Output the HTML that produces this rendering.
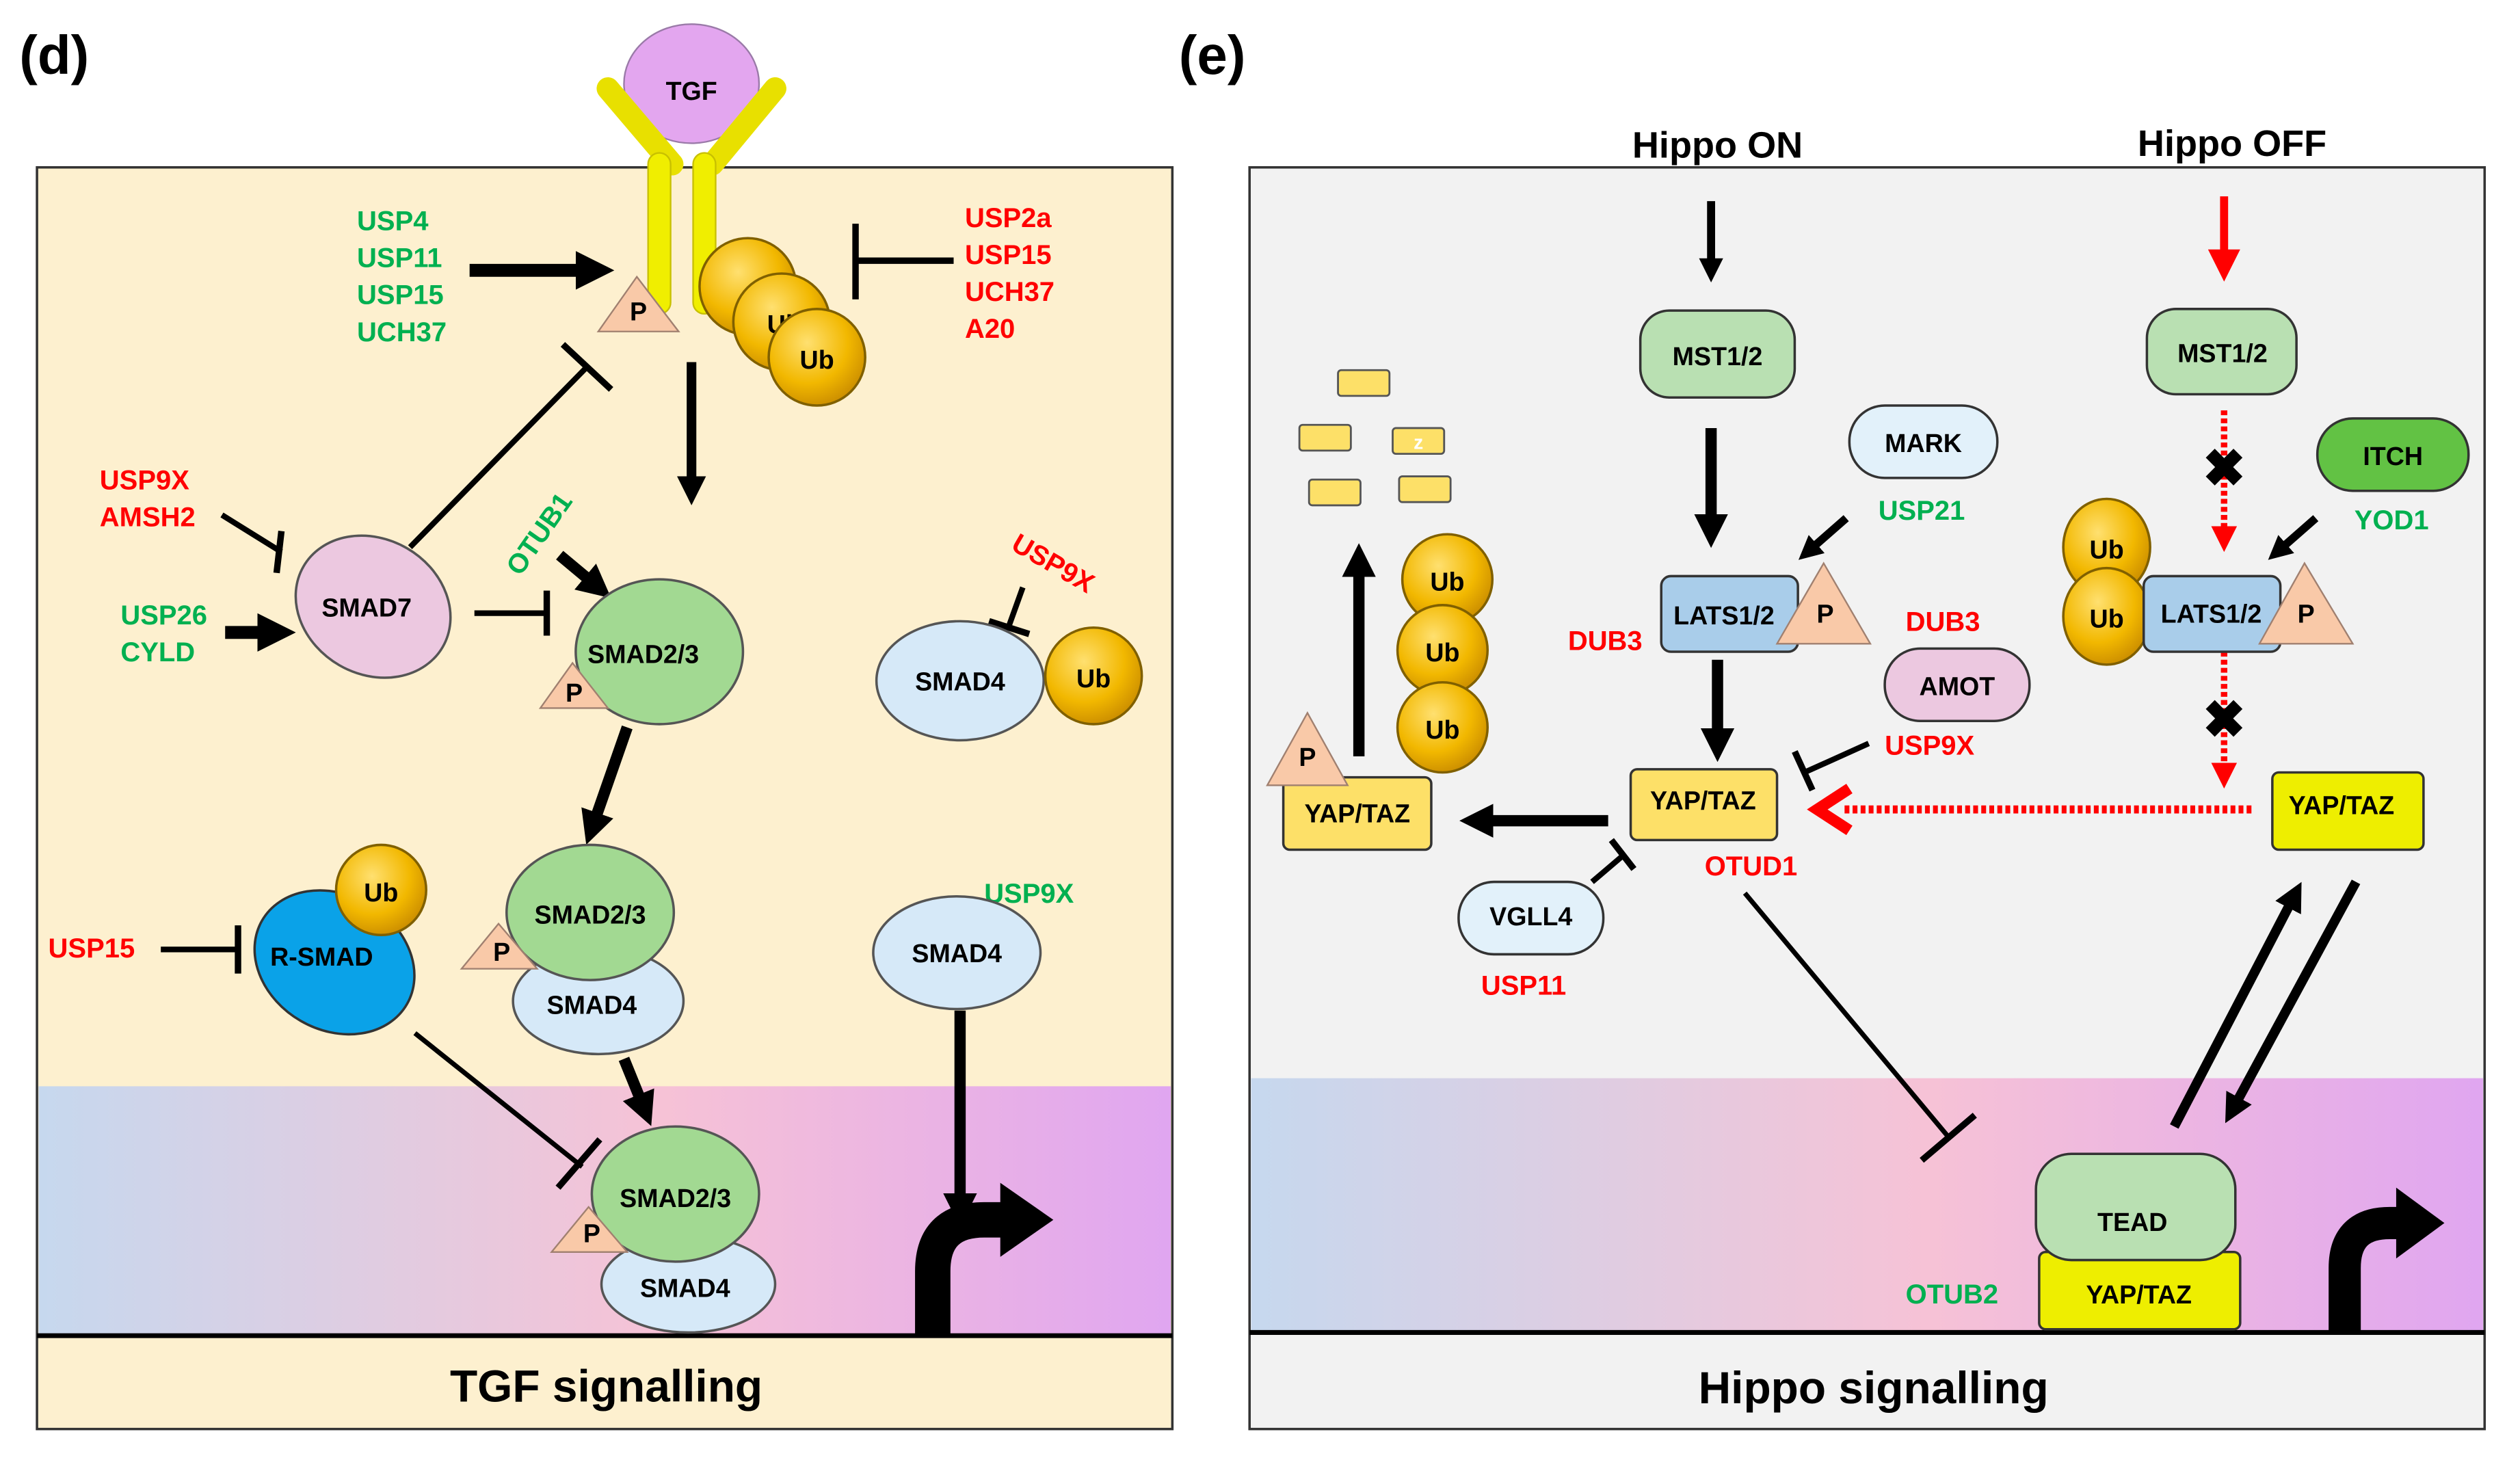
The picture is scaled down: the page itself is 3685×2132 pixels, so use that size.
<!DOCTYPE html>
<html><head><meta charset="utf-8"><style>
html,body{margin:0;padding:0;background:#fff;}
svg{display:block;}
text{font-family:"Liberation Sans",Arial,sans-serif;font-weight:bold;}
</style></head><body>
<svg width="3685" height="2132" viewBox="0 0 1567 906" preserveAspectRatio="none" xmlns="http://www.w3.org/2000/svg">
<defs>
<linearGradient id="nuc" x1="0" x2="1" y1="0" y2="0">
<stop offset="0" stop-color="#c6d8ee"/><stop offset="0.55" stop-color="#f6c2d6"/><stop offset="1" stop-color="#e0a6f0"/></linearGradient>
<radialGradient id="ub" cx="0.4" cy="0.35" r="0.7"><stop offset="0" stop-color="#ffe070"/><stop offset="0.6" stop-color="#f2b800"/><stop offset="1" stop-color="#c88a00"/></radialGradient>
<marker id="ah" viewBox="0 0 10 10" refX="5" refY="5" markerWidth="3" markerHeight="3" orient="auto"><path d="M0,0 L10,5 L0,10 z" fill="#000"/></marker>
<marker id="ahr" viewBox="0 0 10 10" refX="5" refY="5" markerWidth="4" markerHeight="4" orient="auto"><path d="M0,0 L10,5 L0,10 z" fill="#f00"/></marker>
</defs>
<style>
.g{fill:#00b050;font-size:17px}.r{fill:#ff0000;font-size:17px}.k{fill:#000;font-size:16px}
.ln{stroke:#000;fill:none}
</style>
<text x="12" y="46" font-size="34" fill="#000">(d)</text>
<text x="733" y="46" font-size="34" fill="#000">(e)</text>

<!-- LEFT PANEL -->
<rect x="23" y="104" width="706" height="784" fill="#fdf0cf" stroke="#333" stroke-width="1.5"/>
<rect x="24" y="675" width="704" height="155" fill="url(#nuc)"/>
<line x1="23" y1="830" x2="729" y2="830" stroke="#000" stroke-width="3"/>
<text x="377" y="871" font-size="28" text-anchor="middle">TGF signalling</text>

<ellipse cx="430" cy="52" rx="42" ry="37" fill="#e3a6ef" stroke="#9a7aa8"/>
<text x="430" y="62" class="k" text-anchor="middle">TGF</text>
<line x1="378" y1="55" x2="418" y2="102" stroke="#e8e000" stroke-width="14" stroke-linecap="round"/>
<line x1="482" y1="55" x2="443" y2="102" stroke="#e8e000" stroke-width="14" stroke-linecap="round"/>
<rect x="403" y="95" width="14" height="100" rx="7" fill="#f0ee00" stroke="#c8c000"/>
<rect x="431" y="95" width="14" height="100" rx="7" fill="#f0ee00" stroke="#c8c000"/>
<polygon points="372,206 396,172 422,206" fill="#f9c9a8" stroke="#a08070"/>
<text x="397" y="199" class="k" text-anchor="middle">P</text>
<circle cx="465" cy="178" r="30" fill="url(#ub)" stroke="#806000" stroke-width="1.5"/>
<text x="477" y="185" class="k">Ub</text>
<circle cx="486" cy="200" r="30" fill="url(#ub)" stroke="#806000" stroke-width="1.5"/>
<text x="477" y="207" class="k">Ub</text>
<circle cx="508" cy="222" r="30" fill="url(#ub)" stroke="#806000" stroke-width="1.5"/>
<text x="508" y="229" class="k" text-anchor="middle">Ub</text>

<text x="222" y="143" class="g">USP4</text><text x="222" y="166" class="g">USP11</text>
<text x="222" y="189" class="g">USP15</text><text x="222" y="212" class="g">UCH37</text>
<line x1="292" y1="168" x2="370" y2="168" class="ln" stroke-width="8" marker-end="url(#ah)"/>
<text x="600" y="141" class="r">USP2a</text><text x="600" y="164" class="r">USP15</text>
<text x="600" y="187" class="r">UCH37</text><text x="600" y="210" class="r">A20</text>
<line x1="593" y1="162" x2="532" y2="162" class="ln" stroke-width="4"/>
<line x1="532" y1="139" x2="532" y2="186" class="ln" stroke-width="4"/>
<line x1="430" y1="225" x2="430" y2="305" class="ln" stroke-width="6" marker-end="url(#ah)"/>

<line x1="255" y1="340" x2="365" y2="228" class="ln" stroke-width="3.5"/>
<line x1="350" y1="214" x2="380" y2="242" class="ln" stroke-width="4"/>
<text x="62" y="304" class="r">USP9X</text><text x="62" y="327" class="r">AMSH2</text>
<line x1="138" y1="320" x2="175" y2="343" class="ln" stroke-width="3.5"/>
<line x1="175" y1="330" x2="172" y2="356" class="ln" stroke-width="4"/>
<text x="75" y="388" class="g">USP26</text><text x="75" y="411" class="g">CYLD</text>
<line x1="140" y1="393" x2="172" y2="393" class="ln" stroke-width="8" marker-end="url(#ah)"/>
<ellipse cx="232" cy="377" rx="50" ry="42" transform="rotate(30 232 377)" fill="#ecc8e0" stroke="#555" stroke-width="1.5"/>
<text x="228" y="383" class="k" text-anchor="middle">SMAD7</text>
<line x1="295" y1="381" x2="340" y2="381" class="ln" stroke-width="3.5"/>
<line x1="340" y1="367" x2="340" y2="395" class="ln" stroke-width="4"/>
<text x="340" y="335" class="g" transform="rotate(-55 340 335)" text-anchor="middle">OTUB1</text>
<line x1="348" y1="345" x2="372" y2="365" class="ln" stroke-width="7" marker-end="url(#ah)"/>
<ellipse cx="410" cy="405" rx="52" ry="45" fill="#a2d992" stroke="#555" stroke-width="1.5"/>
<text x="400" y="412" class="k" text-anchor="middle">SMAD2/3</text>
<polygon points="336,440 356,412 378,440" fill="#f9c9a8" stroke="#a08070"/>
<text x="357" y="436" class="k" text-anchor="middle">P</text>

<text x="652" y="355" class="r" transform="rotate(30 652 355)" text-anchor="middle">USP9X</text>
<line x1="636" y1="365" x2="627" y2="390" class="ln" stroke-width="3.5"/>
<line x1="615" y1="386" x2="640" y2="394" class="ln" stroke-width="4"/>
<ellipse cx="597" cy="423" rx="52" ry="37" fill="#d6e9f8" stroke="#555" stroke-width="1.5"/>
<text x="597" y="429" class="k" text-anchor="middle">SMAD4</text>
<circle cx="680" cy="420" r="30" fill="url(#ub)" stroke="#806000" stroke-width="1.5"/>
<text x="680" y="427" class="k" text-anchor="middle">Ub</text>

<line x1="390" y1="452" x2="368" y2="515" class="ln" stroke-width="7" marker-end="url(#ah)"/>
<ellipse cx="372" cy="622" rx="53" ry="33" fill="#d6e9f8" stroke="#555" stroke-width="1.5"/>
<text x="368" y="630" class="k" text-anchor="middle">SMAD4</text>
<ellipse cx="367" cy="567" rx="52" ry="42" fill="#a2d992" stroke="#555" stroke-width="1.5"/>
<text x="367" y="574" class="k" text-anchor="middle">SMAD2/3</text>
<polygon points="287,602 310,574 334,602" fill="#f9c9a8" stroke="#a08070"/>
<text x="312" y="597" class="k" text-anchor="middle">P</text>

<ellipse cx="208" cy="598" rx="52" ry="42" transform="rotate(30 208 598)" fill="#0aa2e8" stroke="#333" stroke-width="1.5"/>
<text x="200" y="600" class="k" text-anchor="middle">R-SMAD</text>
<circle cx="237" cy="553" r="28" fill="url(#ub)" stroke="#806000" stroke-width="1.5"/>
<text x="237" y="560" class="k" text-anchor="middle">Ub</text>
<text x="30" y="595" class="r">USP15</text>
<line x1="100" y1="590" x2="148" y2="590" class="ln" stroke-width="3.5"/>
<line x1="148" y1="575" x2="148" y2="605" class="ln" stroke-width="4"/>
<line x1="258" y1="642" x2="362" y2="725" class="ln" stroke-width="3"/>
<line x1="347" y1="738" x2="373" y2="708" class="ln" stroke-width="4"/>
<line x1="388" y1="658" x2="401" y2="690" class="ln" stroke-width="7" marker-end="url(#ah)"/>

<ellipse cx="428" cy="798" rx="54" ry="30" fill="#d6e9f8" stroke="#555" stroke-width="1.5"/>
<text x="426" y="806" class="k" text-anchor="middle">SMAD4</text>
<ellipse cx="420" cy="742" rx="52" ry="42" fill="#a2d992" stroke="#555" stroke-width="1.5"/>
<text x="420" y="750" class="k" text-anchor="middle">SMAD2/3</text>
<polygon points="343,778 366,750 390,778" fill="#f9c9a8" stroke="#a08070"/>
<text x="368" y="772" class="k" text-anchor="middle">P</text>

<text x="612" y="561" class="g">USP9X</text>
<ellipse cx="595" cy="592" rx="52" ry="35" fill="#d6e9f8" stroke="#555" stroke-width="1.5"/>
<text x="595" y="598" class="k" text-anchor="middle">SMAD4</text>
<line x1="597" y1="628" x2="597" y2="752" class="ln" stroke-width="7" marker-end="url(#ah)"/>
<path d="M580,830 L580,790 Q580,758 612,758 L628,758" stroke="#000" stroke-width="22" fill="none"/>
<polygon points="622,735 655,758 622,781" fill="#000"/>

<!-- RIGHT PANEL -->
<rect x="777" y="104" width="768" height="784" fill="#f2f2f2" stroke="#333" stroke-width="1.5"/>
<rect x="778" y="670" width="766" height="158" fill="url(#nuc)"/>
<line x1="777" y1="828" x2="1545" y2="828" stroke="#000" stroke-width="3"/>
<text x="1165" y="872" font-size="28" text-anchor="middle">Hippo signalling</text>
<text x="1068" y="98" font-size="23" text-anchor="middle">Hippo ON</text>
<text x="1388" y="97" font-size="23" text-anchor="middle">Hippo OFF</text>

<line x1="1064" y1="125" x2="1064" y2="168" class="ln" stroke-width="5" marker-end="url(#ah)"/>
<line x1="1383" y1="122" x2="1383" y2="165" stroke="#f00" stroke-width="5" marker-end="url(#ahr)"/>
<rect x="1020" y="193" width="96" height="54" rx="18" fill="#b9e0b2" stroke="#333" stroke-width="1.5"/>
<text x="1068" y="227" class="k" text-anchor="middle">MST1/2</text>
<rect x="1335" y="192" width="93" height="53" rx="18" fill="#b9e0b2" stroke="#333" stroke-width="1.5"/>
<text x="1382" y="225" class="k" text-anchor="middle">MST1/2</text>
<line x1="1064" y1="266" x2="1064" y2="330" class="ln" stroke-width="7" marker-end="url(#ah)"/>
<rect x="1150" y="252" width="92" height="45" rx="22" fill="#e2f1fa" stroke="#333" stroke-width="1.5"/>
<text x="1196" y="281" class="k" font-size="15" text-anchor="middle">MARK</text>
<text x="1168" y="323" class="g">USP21</text>
<line x1="1148" y1="322" x2="1124" y2="343" class="ln" stroke-width="5" marker-end="url(#ah)"/>
<rect x="1033" y="358" width="85" height="47" rx="6" fill="#a9cdea" stroke="#333" stroke-width="1.5"/>
<text x="1072" y="388" class="k" font-size="15" text-anchor="middle">LATS1/2</text>
<polygon points="1105,400 1134,350 1163,400" fill="#f9c9a8" stroke="#a08070"/>
<text x="1135" y="387" class="k" text-anchor="middle">P</text>
<text x="975" y="404" class="r">DUB3</text>
<text x="1185" y="392" class="r">DUB3</text>
<rect x="1172" y="403" width="90" height="45" rx="22" fill="#ecc8e0" stroke="#333" stroke-width="1.5"/>
<text x="1217" y="432" class="k" font-size="15" text-anchor="middle">AMOT</text>
<line x1="1068" y1="410" x2="1068" y2="463" class="ln" stroke-width="7" marker-end="url(#ah)"/>
<rect x="1014" y="478" width="91" height="44" rx="4" fill="#fde068" stroke="#333" stroke-width="1.5"/>
<text x="1059" y="503" class="k" font-size="14" text-anchor="middle">YAP/TAZ</text>
<text x="1172" y="469" class="r">USP9X</text>
<line x1="1162" y1="462" x2="1122" y2="480" class="ln" stroke-width="3.5"/>
<line x1="1116" y1="467" x2="1127" y2="491" class="ln" stroke-width="4"/>
<text x="1060" y="544" class="r">OTUD1</text>
<rect x="907" y="548" width="90" height="45" rx="22" fill="#e2f1fa" stroke="#333" stroke-width="1.5"/>
<text x="952" y="575" class="k" font-size="15" text-anchor="middle">VGLL4</text>
<text x="921" y="618" class="r">USP11</text>
<line x1="990" y1="548" x2="1010" y2="531" class="ln" stroke-width="3.5"/>
<line x1="1002" y1="522" x2="1016" y2="540" class="ln" stroke-width="4"/>
<line x1="1000" y1="510" x2="918" y2="510" class="ln" stroke-width="7" marker-end="url(#ah)"/>
<rect x="798" y="483" width="92" height="45" rx="4" fill="#fde068" stroke="#333" stroke-width="1.5"/>
<text x="844" y="511" class="k" font-size="14" text-anchor="middle">YAP/TAZ</text>
<polygon points="788,488 813,443 838,488" fill="#f9c9a8" stroke="#a08070"/>
<text x="813" y="476" class="k" text-anchor="middle">P</text>
<line x1="845" y1="470" x2="845" y2="348" class="ln" stroke-width="7" marker-end="url(#ah)"/>
<ellipse cx="900" cy="360" rx="28" ry="28" fill="url(#ub)" stroke="#806000" stroke-width="1.5"/>
<ellipse cx="897" cy="404" rx="28" ry="28" fill="url(#ub)" stroke="#806000" stroke-width="1.5"/>
<ellipse cx="897" cy="452" rx="28" ry="28" fill="url(#ub)" stroke="#806000" stroke-width="1.5"/>
<text x="900" y="367" class="k" text-anchor="middle">Ub</text>
<text x="897" y="411" class="k" text-anchor="middle">Ub</text>
<text x="897" y="459" class="k" text-anchor="middle">Ub</text>
<g fill="#fde068" stroke="#555" stroke-width="1.2">
<rect x="832" y="230" width="32" height="16" rx="2"/><rect x="808" y="264" width="32" height="16" rx="2"/>
<rect x="866" y="266" width="32" height="16" rx="2"/><rect x="814" y="298" width="32" height="16" rx="2"/>
<rect x="870" y="296" width="32" height="16" rx="2"/></g>
<text x="882" y="279" fill="#fff" font-size="12" text-anchor="middle">z</text>
<line x1="1085" y1="555" x2="1212" y2="707" class="ln" stroke-width="3"/>
<line x1="1195" y1="721" x2="1228" y2="693" class="ln" stroke-width="4"/>

<line x1="1383" y1="255" x2="1383" y2="335" stroke="#f00" stroke-width="4" stroke-dasharray="3,2" marker-end="url(#ahr)"/>
<text x="1383" y="302" font-size="32" text-anchor="middle" fill="#000">✖</text>
<line x1="1383" y1="405" x2="1383" y2="482" stroke="#f00" stroke-width="4" stroke-dasharray="3,2" marker-end="url(#ahr)"/>
<text x="1383" y="458" font-size="32" text-anchor="middle" fill="#000">✖</text>
<rect x="1441" y="260" width="94" height="45" rx="22" fill="#62c244" stroke="#333" stroke-width="1.5"/>
<text x="1488" y="289" class="k" font-size="17" text-anchor="middle">ITCH</text>
<text x="1464" y="329" class="g">YOD1</text>
<line x1="1440" y1="322" x2="1416" y2="343" class="ln" stroke-width="5" marker-end="url(#ah)"/>
<ellipse cx="1310" cy="340" rx="27" ry="30" fill="url(#ub)" stroke="#806000" stroke-width="1.5"/>
<ellipse cx="1310" cy="383" rx="27" ry="30" fill="url(#ub)" stroke="#806000" stroke-width="1.5"/>
<text x="1310" y="347" class="k" text-anchor="middle">Ub</text>
<text x="1310" y="390" class="k" text-anchor="middle">Ub</text>
<rect x="1333" y="358" width="85" height="47" rx="6" fill="#a9cdea" stroke="#333" stroke-width="1.5"/>
<text x="1375" y="387" class="k" font-size="15" text-anchor="middle">LATS1/2</text>
<polygon points="1405,400 1433,350 1463,400" fill="#f9c9a8" stroke="#a08070"/>
<text x="1434" y="387" class="k" text-anchor="middle">P</text>
<rect x="1413" y="480" width="94" height="48" rx="4" fill="#eeee00" stroke="#333" stroke-width="1.5"/>
<text x="1456" y="506" class="k" font-size="14" text-anchor="middle">YAP/TAZ</text>
<line x1="1400" y1="503" x2="1145" y2="503" stroke="#f00" stroke-width="5" stroke-dasharray="3,2"/>
<polyline points="1150,490 1130,503 1150,516" stroke="#f00" stroke-width="7" fill="none"/>
<line x1="1465" y1="548" x2="1388" y2="690" class="ln" stroke-width="6" marker-end="url(#ah)"/>
<line x1="1352" y1="700" x2="1427" y2="556" class="ln" stroke-width="6" marker-end="url(#ah)"/>
<rect x="1268" y="778" width="125" height="48" rx="4" fill="#eeee00" stroke="#333" stroke-width="1.5"/>
<text x="1330" y="810" class="k" font-size="18" text-anchor="middle">YAP/TAZ</text>
<rect x="1266" y="717" width="124" height="66" rx="22" fill="#b9e0b2" stroke="#333" stroke-width="1.5"/>
<text x="1326" y="765" class="k" font-size="18" text-anchor="middle">TEAD</text>
<text x="1185" y="810" class="g">OTUB2</text>
<path d="M1458,828 L1458,788 Q1458,760 1486,760 L1494,760" stroke="#000" stroke-width="20" fill="none"/>
<polygon points="1490,738 1520,760 1490,782" fill="#000"/>
</svg>
</body></html>
